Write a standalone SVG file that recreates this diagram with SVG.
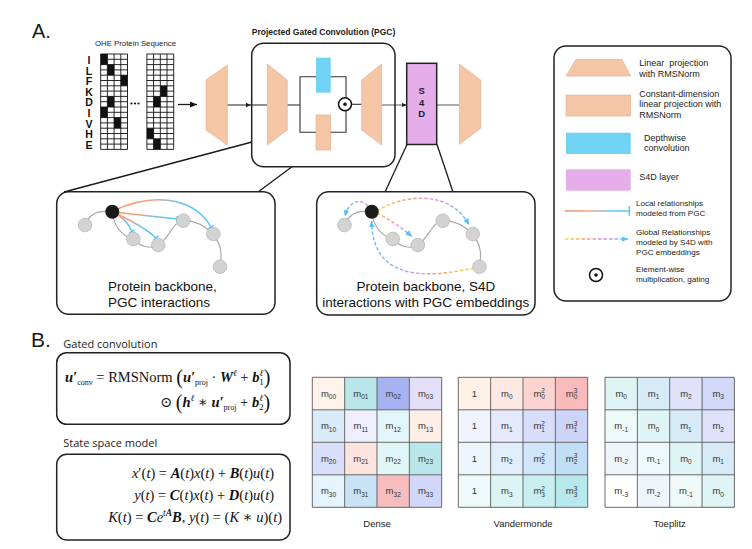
<svg xmlns="http://www.w3.org/2000/svg" width="752" height="549" viewBox="0 0 752 549">
<defs>
<style>
text{font-family:"Liberation Sans",Arial,sans-serif;fill:#1a1a1a}
.peach{fill:#f5c6a6;stroke:#e3aa86;stroke-width:0.6}
.blue{fill:#70d3f3}
.purp{fill:#e5aeea}
.box{fill:#fff;stroke:#222;stroke-width:1.5}
.ln{stroke:#333;stroke-width:1.1;fill:none}
.cn{stroke:#1a1a1a;stroke-width:1.3;fill:none}
.nd{fill:#d3d3d3;stroke:#b8b8b8;stroke-width:0.8}
.bb{fill:none;stroke:#a9a9a9;stroke-width:1.2}
.loc{fill:none;stroke-width:1.4}
.glob{fill:none;stroke-width:1.4;stroke-dasharray:3.5 2}
.lg{font-size:9px;fill:#222}
.lg2{font-size:8.1px;fill:#222}
.pt{font-size:13.5px;fill:#111}
.m{font-family:"Liberation Serif","DejaVu Serif",serif;font-size:14.5px;fill:#111}
.bi{font-weight:bold;font-style:italic}
.it{font-style:italic}
.ct{font-size:9.5px;fill:#333;text-anchor:middle}
.sb{font-size:6.5px}
.gl{stroke:#5a5a5a;stroke-width:0.9;fill:none}
.ml{font-size:9.5px;fill:#222;text-anchor:middle}
.ohe{font-size:10.5px;font-weight:bold;text-anchor:middle;fill:#111}
.sec{font-family:"Open Sans","Liberation Sans",sans-serif;font-size:11px;fill:#222}
.dot{fill:#fff;stroke:#111;stroke-width:1.5}
</style>
<marker id="ah" viewBox="0 0 8 8" refX="8" refY="4" markerWidth="7" markerHeight="7" orient="auto" markerUnits="userSpaceOnUse"><path d="M0,0.5L8,4L0,7.5z" fill="#111"/></marker>
<marker id="ah2" viewBox="0 0 8 8" refX="8" refY="4" markerWidth="5" markerHeight="5" orient="auto" markerUnits="userSpaceOnUse"><path d="M0,0.5L8,4L0,7.5z" fill="#222"/></marker>
<marker id="ab" viewBox="0 0 8 8" refX="8" refY="4" markerWidth="6.5" markerHeight="6.5" orient="auto" markerUnits="userSpaceOnUse"><path d="M0,0.5L8,4L0,7.5z" fill="#56c2f2"/></marker>
<marker id="tb" viewBox="0 0 2 8" refX="1" refY="4" markerWidth="1.6" markerHeight="7" orient="auto" markerUnits="userSpaceOnUse"><rect width="2" height="8" fill="#55c4f0"/></marker>
<linearGradient id="gL" x1="0" y1="0" x2="1" y2="0"><stop offset="0" stop-color="#f5925a"/><stop offset="0.35" stop-color="#f4a27a"/><stop offset="0.7" stop-color="#5ec6f2"/><stop offset="1" stop-color="#58c6f2"/></linearGradient>
<linearGradient id="gY" x1="0" y1="0" x2="1" y2="0"><stop offset="0" stop-color="#f8d13f"/><stop offset="0.35" stop-color="#f3a07a"/><stop offset="0.6" stop-color="#e48be8"/><stop offset="1" stop-color="#58c4f4"/></linearGradient>
<linearGradient id="gYr" x1="1" y1="0" x2="0" y2="0"><stop offset="0" stop-color="#f8d13f"/><stop offset="0.35" stop-color="#f3a07a"/><stop offset="0.6" stop-color="#e48be8"/><stop offset="1" stop-color="#58c4f4"/></linearGradient>
<linearGradient id="gPr" x1="1" y1="0" x2="0" y2="0"><stop offset="0" stop-color="#e48be8"/><stop offset="1" stop-color="#58c4f4"/></linearGradient>
<linearGradient id="gLl" gradientUnits="userSpaceOnUse" x1="565" y1="0" x2="629" y2="0"><stop offset="0" stop-color="#f5925a"/><stop offset="0.4" stop-color="#f4a27a"/><stop offset="0.75" stop-color="#5ec6f2"/><stop offset="1" stop-color="#58c6f2"/></linearGradient>
<linearGradient id="gYl" gradientUnits="userSpaceOnUse" x1="565" y1="0" x2="628" y2="0"><stop offset="0" stop-color="#f8d13f"/><stop offset="0.35" stop-color="#f3a07a"/><stop offset="0.6" stop-color="#e48be8"/><stop offset="1" stop-color="#58c4f4"/></linearGradient>
<path id="ohegrid" d="M0,0H26.8M0,5.3H26.8M0,10.6H26.8M0,15.9H26.8M0,21.2H26.8M0,26.5H26.8M0,31.8H26.8M0,37.1H26.8M0,42.4H26.8M0,47.7H26.8M0,53H26.8M0,58.3H26.8M0,63.6H26.8M0,68.9H26.8M0,74.2H26.8M0,79.5H26.8M0,84.8H26.8M0,90.1H26.8M0,95.4H26.8M0,0V95.4M6.7,0V95.4M13.4,0V95.4M20.1,0V95.4M26.8,0V95.4" fill="none" stroke="#111" stroke-width="0.9"/>
<path id="mgrid" d="M0,0H129.4M0,32.5H129.4M0,65H129.4M0,97.5H129.4M0,130H129.4M0,0V130M32.35,0V130M64.7,0V130M97.05,0V130M129.4,0V130" class="gl"/>
</defs>
<rect width="752" height="549" fill="#fff"/>

<text x="32" y="38" font-size="20">A.</text>
<text x="31" y="347" font-size="21">B.</text>

<!-- OHE input -->
<g id="ohe">
<text x="135.5" y="45.5" font-size="7.8" text-anchor="middle" fill="#333">OHE Protein Sequence</text>
<text class="ohe" x="89" y="64">I</text>
<text class="ohe" x="89" y="74.6">L</text>
<text class="ohe" x="89" y="85.2">F</text>
<text class="ohe" x="89" y="95.8">K</text>
<text class="ohe" x="89" y="106.4">D</text>
<text class="ohe" x="89" y="117">I</text>
<text class="ohe" x="89" y="127.6">V</text>
<text class="ohe" x="89" y="138.2">H</text>
<text class="ohe" x="89" y="148.8">E</text>
<rect x="100.7" y="54" width="26.8" height="95.4" fill="#fff"/>
<rect x="146.9" y="54" width="26.8" height="95.4" fill="#fff"/>
<g fill="#111">
<rect x="100.7" y="54" width="6.7" height="10.6"/>
<rect x="107.4" y="64.6" width="6.7" height="10.6"/>
<rect x="120.8" y="75.2" width="6.7" height="10.6"/>
<rect x="107.4" y="96.4" width="6.7" height="10.6"/>
<rect x="100.7" y="107" width="6.7" height="10.6"/>
<rect x="114.1" y="117.6" width="6.7" height="10.6"/>
<rect x="160.3" y="85.8" width="6.7" height="10.6"/>
<rect x="153.6" y="96.4" width="6.7" height="10.6"/>
<rect x="146.9" y="128.2" width="6.7" height="10.6"/>
<rect x="153.6" y="138.8" width="6.7" height="10.6"/>
</g>
<use href="#ohegrid" x="100.7" y="54"/>
<use href="#ohegrid" x="146.9" y="54"/>
<circle cx="131.5" cy="103.5" r="1.1" fill="#111"/>
<circle cx="135" cy="103.5" r="1.1" fill="#111"/>
<circle cx="138.5" cy="103.5" r="1.1" fill="#111"/>
</g>

<!-- connectors -->
<g id="connectors">
<line x1="178" y1="104.5" x2="197" y2="104.5" class="cn" marker-end="url(#ah)"/>
<line x1="227.3" y1="105" x2="251" y2="105" class="ln" marker-end="url(#ah2)"/>
<line x1="251" y1="105" x2="267.3" y2="105" class="ln"/>
<line x1="287.3" y1="105" x2="300" y2="105" class="ln"/>
<path d="M346,97.8V76.7H300V132.3H346V110.8" class="ln"/>
<line x1="351.5" y1="104.3" x2="361.7" y2="104.3" class="ln"/>
<line x1="381.7" y1="105" x2="406.7" y2="105" stroke="#444" stroke-width="0.9" marker-end="url(#ah2)"/>
<line x1="436.7" y1="105" x2="459.3" y2="105" stroke="#444" stroke-width="0.9"/>
<path d="M252,142L64,192" class="cn"/>
<path d="M292,166.7L258,192" class="cn"/>
<path d="M407,144.5L385,192" class="cn"/>
<path d="M437,144.5L453,192" class="cn"/>
</g>

<!-- first projection -->
<g id="proj-in"><polygon class="peach" points="206,80 227.3,65 227.3,145 206,130"/></g>

<!-- PGC block -->
<g id="pgc">
<text x="323.5" y="35" font-size="8.5" font-weight="bold" text-anchor="middle">Projected Gated Convolution (PGC)</text>
<rect x="251.7" y="43.3" width="143.3" height="123.4" rx="12" class="box" style="fill:none"/>
<polygon class="peach" points="267.3,64 287.3,80 287.3,130 267.3,145"/>
<rect x="316" y="57.7" width="14.7" height="35" class="blue"/>
<rect x="316" y="115" width="14.7" height="35" class="peach" stroke="none"/>
<circle cx="345" cy="104.3" r="6.5" class="dot"/>
<circle cx="345" cy="104.3" r="1.8" fill="#111"/>
<polygon class="peach" points="361.7,80 381.7,64 381.7,145 361.7,130"/>
</g>

<!-- S4D -->
<g id="s4d">
<rect x="406.7" y="63.3" width="30" height="81.2" class="purp" stroke="#222" stroke-width="1.5"/>
<text x="421.7" y="94" font-size="9.5" font-weight="bold" text-anchor="middle">S</text>
<text x="421.7" y="105.5" font-size="9.5" font-weight="bold" text-anchor="middle">4</text>
<text x="421.7" y="117" font-size="9.5" font-weight="bold" text-anchor="middle">D</text>
</g>

<g id="proj-out"><polygon class="peach" points="459.3,64 480.7,80 480.7,128.3 459.3,144.3"/></g>

<!-- Panel 1 -->
<g id="panel-pgc">
<rect x="56.7" y="191.7" width="218.3" height="122.6" rx="12" class="box"/>
<path class="bb" d="M85,225C90,212 100,210 112,212C114,225 120,235 133,239C140,246 150,250 158,245C170,238 172,222 183,221C195,220 205,226 213,234C222,245 222,255 220,267"/>
<path class="loc" stroke="url(#gL)" d="M113,212C121,216 128,222 132,231.5" marker-end="url(#tb)"/>
<path class="loc" stroke="url(#gL)" d="M113,212C130,220 146,228 156,238" marker-end="url(#tb)"/>
<path class="loc" stroke="url(#gL)" d="M113,212L177,219" marker-end="url(#tb)"/>
<path class="loc" stroke="url(#gL)" d="M113,211C148,194 192,194 211,227" marker-end="url(#tb)"/>
<circle cx="85" cy="225" r="6.8" class="nd"/>
<circle cx="133.3" cy="239" r="6.8" class="nd"/>
<circle cx="158.3" cy="245" r="6.8" class="nd"/>
<circle cx="183.3" cy="220.7" r="6.8" class="nd"/>
<circle cx="213.3" cy="234" r="6.8" class="nd"/>
<circle cx="220" cy="266.7" r="6.8" class="nd"/>
<circle cx="112.3" cy="211.7" r="7" fill="#1a1a1a"/>
<text class="pt" x="108" y="291">Protein backbone,</text>
<text class="pt" x="108" y="306.7">PGC interactions</text>
</g>

<!-- Panel 2 -->
<g id="panel-s4d">
<rect x="316.7" y="191.7" width="218.3" height="123.3" rx="12" class="box"/>
<path class="bb" transform="translate(259.5,0)" d="M85,225C90,212 100,210 112,212C114,225 120,235 133,239C140,246 150,250 158,245C170,238 172,222 183,221C195,220 205,226 213,234C222,245 222,255 220,267"/>
<path class="glob" stroke="url(#gPr)" d="M368,206C362,199 349,199 345,216.5" marker-end="url(#ab)"/>
<path class="glob" stroke="url(#gY)" d="M377,211C408,192 452,192 469,225" marker-end="url(#ab)"/>
<path class="glob" stroke="url(#gY)" d="M377,213C392,221 402,228 412,236.5" marker-end="url(#ab)"/>
<path class="glob" stroke="url(#gYr)" d="M474,268C432,277 372,284 371.7,221" marker-end="url(#ab)"/>
<g transform="translate(259.5,0)">
<circle cx="85" cy="225" r="6.8" class="nd"/>
<circle cx="133.3" cy="239" r="6.8" class="nd"/>
<circle cx="158.3" cy="245" r="6.8" class="nd"/>
<circle cx="183.3" cy="220.7" r="6.8" class="nd"/>
<circle cx="213.3" cy="234" r="6.8" class="nd"/>
<circle cx="220" cy="266.7" r="6.8" class="nd"/>
<circle cx="112.3" cy="211.7" r="7" fill="#1a1a1a"/>
</g>
<text class="pt" x="425.8" y="291" text-anchor="middle">Protein backbone, S4D</text>
<text class="pt" x="425.8" y="306.7" text-anchor="middle">interactions with PGC embeddings</text>
</g>

<!-- Legend -->
<g id="legend">
<rect x="554" y="46" width="177" height="255" rx="12" class="box"/>
<polygon class="peach" points="576,59.3 621.7,59.3 630.7,76 566,76"/>
<text class="lg" x="639.3" y="66">Linear&#160; projection</text>
<text class="lg" x="639.3" y="76.7">with RMSNorm</text>
<rect x="566" y="95" width="64.7" height="21" class="peach"/>
<text class="lg" x="639.3" y="96.7">Constant-dimension</text>
<text class="lg" x="639.3" y="107.3">linear projection with</text>
<text class="lg" x="639.3" y="118.3">RMSNorm</text>
<rect x="566" y="132.7" width="64.7" height="21.3" class="blue"/>
<text class="lg" x="644" y="141">Depthwise</text>
<text class="lg" x="644" y="150.7">convolution</text>
<rect x="566" y="169.3" width="64.7" height="21.4" class="purp"/>
<text class="lg" x="639.3" y="180">S4D layer</text>
<line x1="565" y1="211" x2="629" y2="211" stroke="url(#gLl)" stroke-width="1.5"/>
<line x1="629.3" y1="206" x2="629.3" y2="215.7" stroke="#55c4f0" stroke-width="1.5"/>
<text class="lg2" x="636" y="206">Local relationships</text>
<text class="lg2" x="636" y="216">modeled from PGC</text>
<line x1="565" y1="239" x2="628" y2="239" stroke="url(#gYl)" stroke-width="1.4" stroke-dasharray="3.5 2" marker-end="url(#ab)"/>
<text class="lg2" x="636" y="235">Global Relationships</text>
<text class="lg2" x="636" y="245">modeled by S4D with</text>
<text class="lg2" x="636" y="255">PGC embeddings</text>
<circle cx="596" cy="275" r="6.5" class="dot"/>
<circle cx="596" cy="275" r="1.8" fill="#111"/>
<text class="lg2" x="636" y="271.7">Element-wise</text>
<text class="lg2" x="636" y="281.5">multiplication, gating</text>
</g>

<!-- Equations -->
<g id="gated-conv">
<text class="sec" x="63.3" y="347.7">Gated convolution</text>
<rect x="56.7" y="352.7" width="233.3" height="71.6" rx="10" class="box"/>
<text class="m" x="65" y="382"><tspan class="bi">u′</tspan><tspan font-size="8" dy="3">conv</tspan><tspan dy="-3"> = RMSNorm </tspan><tspan font-size="20" dy="1.5">(</tspan><tspan class="bi" dy="-1.5">u′</tspan><tspan font-size="8" dy="3">proj</tspan><tspan dy="-3"> · </tspan><tspan class="bi">W</tspan><tspan font-size="9" class="it" dy="-6">ℓ</tspan><tspan dy="6"> + </tspan><tspan class="bi">b</tspan><tspan font-size="9" class="it" dy="-6">ℓ</tspan><tspan font-size="9" dx="-4" dy="9">1</tspan><tspan font-size="20" dy="-1.5">)</tspan></text>
<text class="m" x="160" y="407"><tspan>⊙ </tspan><tspan font-size="20" dy="1.5">(</tspan><tspan class="bi" dy="-1.5">h</tspan><tspan font-size="9" class="it" dy="-6">ℓ</tspan><tspan dy="6"> ∗ </tspan><tspan class="bi">u′</tspan><tspan font-size="8" dy="3">proj</tspan><tspan dy="-3"> + </tspan><tspan class="bi">b</tspan><tspan font-size="9" class="it" dy="-6">ℓ</tspan><tspan font-size="9" dx="-4" dy="9">2</tspan><tspan font-size="20" dy="-1.5">)</tspan></text>
</g>
<g id="ssm">
<text class="sec" x="63.3" y="446.7">State space model</text>
<rect x="56.7" y="454.3" width="233.3" height="85.7" rx="10" class="box"/>
<text class="m" x="274" y="478" text-anchor="end"><tspan class="it">x</tspan>′(<tspan class="it">t</tspan>) = <tspan class="bi">A</tspan>(<tspan class="it">t</tspan>)<tspan class="it">x</tspan>(<tspan class="it">t</tspan>) + <tspan class="bi">B</tspan>(<tspan class="it">t</tspan>)<tspan class="it">u</tspan>(<tspan class="it">t</tspan>)</text>
<text class="m" x="274" y="499.5" text-anchor="end"><tspan class="it">y</tspan>(<tspan class="it">t</tspan>) = <tspan class="bi">C</tspan>(<tspan class="it">t</tspan>)<tspan class="it">x</tspan>(<tspan class="it">t</tspan>) + <tspan class="bi">D</tspan>(<tspan class="it">t</tspan>)<tspan class="it">u</tspan>(<tspan class="it">t</tspan>)</text>
<text class="m" x="282" y="521.5" text-anchor="end"><tspan class="it">K</tspan>(<tspan class="it">t</tspan>) = <tspan class="bi">C</tspan><tspan class="it">e</tspan><tspan font-size="9.5" dy="-6"><tspan class="it">t</tspan><tspan class="bi">A</tspan></tspan><tspan dy="6" class="bi">B</tspan>, <tspan class="it">y</tspan>(<tspan class="it">t</tspan>) = (<tspan class="it">K</tspan> ∗ <tspan class="it">u</tspan>)(<tspan class="it">t</tspan>)</text>
</g>

<!-- Dense -->
<g id="dense">
<rect x="312.3" y="377.3" width="32.35" height="32.5" fill="#fdf3ea"/>
<rect x="344.65" y="377.3" width="32.35" height="32.5" fill="#b9e7e9"/>
<rect x="377" y="377.3" width="32.35" height="32.5" fill="#a8b4f2"/>
<rect x="409.35" y="377.3" width="32.35" height="32.5" fill="#e4dff9"/>
<rect x="312.3" y="409.8" width="32.35" height="32.5" fill="#d9eaf9"/>
<rect x="344.65" y="409.8" width="32.35" height="32.5" fill="#eeeefc"/>
<rect x="377" y="409.8" width="32.35" height="32.5" fill="#e2f5f9"/>
<rect x="409.35" y="409.8" width="32.35" height="32.5" fill="#fdeee8"/>
<rect x="312.3" y="442.3" width="32.35" height="32.5" fill="#d9defa"/>
<rect x="344.65" y="442.3" width="32.35" height="32.5" fill="#fde3de"/>
<rect x="377" y="442.3" width="32.35" height="32.5" fill="#e0f6f6"/>
<rect x="409.35" y="442.3" width="32.35" height="32.5" fill="#b8e6ea"/>
<rect x="312.3" y="474.8" width="32.35" height="32.5" fill="#e4f3fc"/>
<rect x="344.65" y="474.8" width="32.35" height="32.5" fill="#c8e2f6"/>
<rect x="377" y="474.8" width="32.35" height="32.5" fill="#f7bcbd"/>
<rect x="409.35" y="474.8" width="32.35" height="32.5" fill="#d0d7f8"/>
<use href="#mgrid" x="312.3" y="377.3"/>
<text class="ct" x="328.5" y="396.5">m<tspan class="sb" dy="2.5">00</tspan></text>
<text class="ct" x="360.8" y="396.5">m<tspan class="sb" dy="2.5">01</tspan></text>
<text class="ct" x="393.2" y="396.5">m<tspan class="sb" dy="2.5">02</tspan></text>
<text class="ct" x="425.5" y="396.5">m<tspan class="sb" dy="2.5">03</tspan></text>
<text class="ct" x="328.5" y="429">m<tspan class="sb" dy="2.5">10</tspan></text>
<text class="ct" x="360.8" y="429">m<tspan class="sb" dy="2.5">11</tspan></text>
<text class="ct" x="393.2" y="429">m<tspan class="sb" dy="2.5">12</tspan></text>
<text class="ct" x="425.5" y="429">m<tspan class="sb" dy="2.5">13</tspan></text>
<text class="ct" x="328.5" y="461.5">m<tspan class="sb" dy="2.5">20</tspan></text>
<text class="ct" x="360.8" y="461.5">m<tspan class="sb" dy="2.5">21</tspan></text>
<text class="ct" x="393.2" y="461.5">m<tspan class="sb" dy="2.5">22</tspan></text>
<text class="ct" x="425.5" y="461.5">m<tspan class="sb" dy="2.5">23</tspan></text>
<text class="ct" x="328.5" y="494">m<tspan class="sb" dy="2.5">30</tspan></text>
<text class="ct" x="360.8" y="494">m<tspan class="sb" dy="2.5">31</tspan></text>
<text class="ct" x="393.2" y="494">m<tspan class="sb" dy="2.5">32</tspan></text>
<text class="ct" x="425.5" y="494">m<tspan class="sb" dy="2.5">33</tspan></text>
<text class="ml" x="377" y="526.7">Dense</text>
</g>

<!-- Vandermonde -->
<g id="vandermonde">
<rect x="458.3" y="377.3" width="32.35" height="32.5" fill="#fdf0e4"/>
<rect x="490.65" y="377.3" width="32.35" height="32.5" fill="#fde8e4"/>
<rect x="523" y="377.3" width="32.35" height="32.5" fill="#fbd4d0"/>
<rect x="555.35" y="377.3" width="32.35" height="32.5" fill="#f8baba"/>
<rect x="458.3" y="409.8" width="32.35" height="32.5" fill="#f0f2fd"/>
<rect x="490.65" y="409.8" width="32.35" height="32.5" fill="#e6e8fc"/>
<rect x="523" y="409.8" width="32.35" height="32.5" fill="#d8ddfa"/>
<rect x="555.35" y="409.8" width="32.35" height="32.5" fill="#ccd4f8"/>
<rect x="458.3" y="442.3" width="32.35" height="32.5" fill="#ecf4fc"/>
<rect x="490.65" y="442.3" width="32.35" height="32.5" fill="#e0eefc"/>
<rect x="523" y="442.3" width="32.35" height="32.5" fill="#cfe6fa"/>
<rect x="555.35" y="442.3" width="32.35" height="32.5" fill="#c0def6"/>
<rect x="458.3" y="474.8" width="32.35" height="32.5" fill="#eef9fa"/>
<rect x="490.65" y="474.8" width="32.35" height="32.5" fill="#dcf4f4"/>
<rect x="523" y="474.8" width="32.35" height="32.5" fill="#c8eef0"/>
<rect x="555.35" y="474.8" width="32.35" height="32.5" fill="#b6e8ec"/>
<use href="#mgrid" x="458.3" y="377.3"/>
<text class="ct" x="474.5" y="396.5">1</text>
<text class="ct" x="506.8" y="396.5">m<tspan class="sb" dy="2.5">0</tspan></text>
<text class="ct" x="539.2" y="396.5">m<tspan class="sb" dy="-3.5">2</tspan><tspan class="sb" dx="-3.6" dy="6">0</tspan></text>
<text class="ct" x="571.5" y="396.5">m<tspan class="sb" dy="-3.5">3</tspan><tspan class="sb" dx="-3.6" dy="6">0</tspan></text>
<text class="ct" x="474.5" y="429">1</text>
<text class="ct" x="506.8" y="429">m<tspan class="sb" dy="2.5">1</tspan></text>
<text class="ct" x="539.2" y="429">m<tspan class="sb" dy="-3.5">2</tspan><tspan class="sb" dx="-3.6" dy="6">1</tspan></text>
<text class="ct" x="571.5" y="429">m<tspan class="sb" dy="-3.5">3</tspan><tspan class="sb" dx="-3.6" dy="6">1</tspan></text>
<text class="ct" x="474.5" y="461.5">1</text>
<text class="ct" x="506.8" y="461.5">m<tspan class="sb" dy="2.5">2</tspan></text>
<text class="ct" x="539.2" y="461.5">m<tspan class="sb" dy="-3.5">2</tspan><tspan class="sb" dx="-3.6" dy="6">2</tspan></text>
<text class="ct" x="571.5" y="461.5">m<tspan class="sb" dy="-3.5">3</tspan><tspan class="sb" dx="-3.6" dy="6">2</tspan></text>
<text class="ct" x="474.5" y="494">1</text>
<text class="ct" x="506.8" y="494">m<tspan class="sb" dy="2.5">3</tspan></text>
<text class="ct" x="539.2" y="494">m<tspan class="sb" dy="-3.5">2</tspan><tspan class="sb" dx="-3.6" dy="6">3</tspan></text>
<text class="ct" x="571.5" y="494">m<tspan class="sb" dy="-3.5">3</tspan><tspan class="sb" dx="-3.6" dy="6">3</tspan></text>
<text class="ml" x="523" y="526.7">Vandermonde</text>
</g>

<!-- Toeplitz -->
<g id="toeplitz">
<rect x="605" y="377.3" width="32.35" height="32.5" fill="#dff5f5"/>
<rect x="637.35" y="377.3" width="32.35" height="32.5" fill="#d6eaf8"/>
<rect x="669.7" y="377.3" width="32.35" height="32.5" fill="#dfe2fa"/>
<rect x="702.05" y="377.3" width="32.35" height="32.5" fill="#d2d8f8"/>
<rect x="605" y="409.8" width="32.35" height="32.5" fill="#eefafa"/>
<rect x="637.35" y="409.8" width="32.35" height="32.5" fill="#dff5f5"/>
<rect x="669.7" y="409.8" width="32.35" height="32.5" fill="#d6eaf8"/>
<rect x="702.05" y="409.8" width="32.35" height="32.5" fill="#dfe2fa"/>
<rect x="605" y="442.3" width="32.35" height="32.5" fill="#f0f5fc"/>
<rect x="637.35" y="442.3" width="32.35" height="32.5" fill="#eefafa"/>
<rect x="669.7" y="442.3" width="32.35" height="32.5" fill="#dff5f5"/>
<rect x="702.05" y="442.3" width="32.35" height="32.5" fill="#d6eaf8"/>
<rect x="605" y="474.8" width="32.35" height="32.5" fill="#ffffff"/>
<rect x="637.35" y="474.8" width="32.35" height="32.5" fill="#f0f5fc"/>
<rect x="669.7" y="474.8" width="32.35" height="32.5" fill="#eefafa"/>
<rect x="702.05" y="474.8" width="32.35" height="32.5" fill="#dff5f5"/>
<use href="#mgrid" x="605" y="377.3"/>
<text class="ct" x="621.2" y="396.5">m<tspan class="sb" dy="2.5">0</tspan></text>
<text class="ct" x="653.5" y="396.5">m<tspan class="sb" dy="2.5">1</tspan></text>
<text class="ct" x="685.9" y="396.5">m<tspan class="sb" dy="2.5">2</tspan></text>
<text class="ct" x="718.2" y="396.5">m<tspan class="sb" dy="2.5">3</tspan></text>
<text class="ct" x="621.2" y="429">m<tspan class="sb" dy="2.5">-1</tspan></text>
<text class="ct" x="653.5" y="429">m<tspan class="sb" dy="2.5">0</tspan></text>
<text class="ct" x="685.9" y="429">m<tspan class="sb" dy="2.5">1</tspan></text>
<text class="ct" x="718.2" y="429">m<tspan class="sb" dy="2.5">2</tspan></text>
<text class="ct" x="621.2" y="461.5">m<tspan class="sb" dy="2.5">-2</tspan></text>
<text class="ct" x="653.5" y="461.5">m<tspan class="sb" dy="2.5">-1</tspan></text>
<text class="ct" x="685.9" y="461.5">m<tspan class="sb" dy="2.5">0</tspan></text>
<text class="ct" x="718.2" y="461.5">m<tspan class="sb" dy="2.5">1</tspan></text>
<text class="ct" x="621.2" y="494">m<tspan class="sb" dy="2.5">-3</tspan></text>
<text class="ct" x="653.5" y="494">m<tspan class="sb" dy="2.5">-2</tspan></text>
<text class="ct" x="685.9" y="494">m<tspan class="sb" dy="2.5">-1</tspan></text>
<text class="ct" x="718.2" y="494">m<tspan class="sb" dy="2.5">0</tspan></text>
<text class="ml" x="669.7" y="526.7">Toeplitz</text>
</g>
</svg>
